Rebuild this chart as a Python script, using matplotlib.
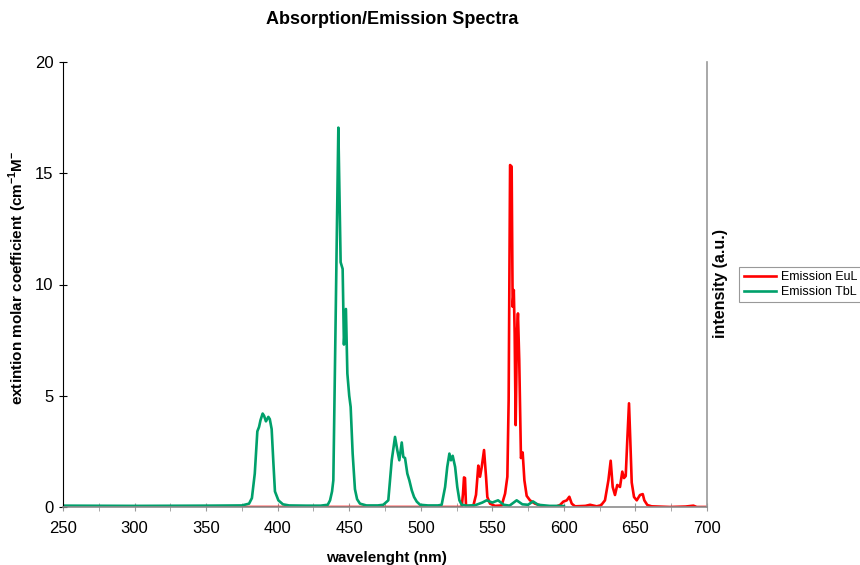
#!/usr/bin/env python3
"""
Absorption/Emission spectra of EuL and TbL (emission curves only)
"""

import matplotlib
matplotlib.use('Agg')
import matplotlib.pyplot as plt
from matplotlib.ticker import MultipleLocator

plt.rcParams['font.family'] = ['Liberation Sans', 'DejaVu Sans']
plt.rcParams['mathtext.fontset'] = 'custom'
plt.rcParams['mathtext.rm'] = 'Liberation Sans'
plt.rcParams['mathtext.bf'] = 'Liberation Sans:bold'

# Emission EuL (red)
eu_wl = [250, 528.6, 529.5, 530.2, 530.9, 531.6, 536.7, 538.6, 540.2, 541.4,
         542.6, 544.2, 545.6, 546.5, 548.4, 551.9, 556.5, 558.9, 560.5, 561.4,
         562.4, 563.5, 564.2, 565.0, 565.6, 566.3, 567.2, 567.9, 568.8, 570.0,
         571.2, 572.4, 574.0, 576.3, 579.8, 585.6, 595.0, 597.3, 599.6, 602.0,
         603.8, 605.5, 607.8, 615.0, 618.3, 622.9, 626.0, 628.7, 631.1, 632.7,
         634.1, 635.7, 637.3, 639.2, 640.8, 642.0, 643.2, 644.3, 645.5, 646.4,
         647.4, 649.0, 650.9, 653.2, 655.1, 656.2, 658.3, 661.3, 674.2, 685.0,
         690.5, 692.8, 700]
eu_int = [0.0, 0.0, 0.6, 1.33, 1.3, 0.05, 0.05, 0.55, 1.86, 1.36,
          1.8, 2.56, 1.36, 0.45, 0.15, 0.05, 0.07, 0.6, 1.36, 4.8,
          15.37, 15.3, 9.0, 9.75, 7.8, 3.68, 7.8, 8.7, 6.6, 2.2,
          2.45, 1.2, 0.5, 0.3, 0.15, 0.03, 0.03, 0.09, 0.24, 0.3,
          0.46, 0.15, 0.03, 0.05, 0.1, 0.03, 0.08, 0.3, 1.2, 2.08,
          0.9, 0.54, 0.99, 0.9, 1.59, 1.3, 1.39, 3.0, 4.66, 3.0,
          1.1, 0.45, 0.3, 0.54, 0.58, 0.3, 0.09, 0.03, 0.0, 0.02,
          0.06, 0.0, 0.0]

# Emission TbL (green)
tb_wl = [250, 300, 350, 375, 380, 382, 384, 385.8, 387, 388,
         389.5, 390.5, 391.8, 393.5, 394.5, 395.8, 397, 398.1, 400.5, 403.7,
         408, 420, 430, 435, 436.6, 438, 438.9, 440.5, 441.5, 442.4,
         443.2, 444, 445.4, 446.3, 447.7, 448.7, 450, 451, 452.4, 454,
         455.5, 457.5, 462, 470, 473.8, 477.3, 479.7, 482, 483.6, 485,
         486.7, 487.8, 489, 490.6, 492, 493.7, 495.3, 497.2, 499.5, 505,
         512, 514.6, 517, 518.5, 520, 521.1, 522.3, 524, 525.5, 527,
         528.6, 532, 538, 543, 546, 550, 554, 558, 562, 567,
         571, 575, 578.4, 582, 590, 597, 600]
tb_int = [0.06, 0.05, 0.06, 0.07, 0.15, 0.4, 1.5, 3.4, 3.6, 3.9,
          4.2, 4.1, 3.85, 4.05, 3.95, 3.5, 2.0, 0.7, 0.3, 0.12,
          0.07, 0.06, 0.06, 0.1, 0.3, 0.7, 1.2, 8.4, 13.0, 17.05,
          14.0, 11.0, 10.7, 7.3, 8.9, 6.0, 5.0, 4.5, 2.4, 0.8,
          0.35, 0.15, 0.07, 0.07, 0.1, 0.3, 2.1, 3.15, 2.55, 2.1,
          2.9, 2.25, 2.2, 1.5, 1.2, 0.75, 0.45, 0.24, 0.1, 0.07,
          0.07, 0.1, 0.9, 1.8, 2.4, 2.1, 2.3, 1.8, 0.9, 0.3,
          0.1, 0.06, 0.08, 0.2, 0.3, 0.2, 0.3, 0.1, 0.06, 0.3,
          0.12, 0.1, 0.25, 0.1, 0.05, 0.05, 0.04]

fig = plt.figure(figsize=(8.6, 5.65), dpi=100)
ax = fig.add_axes([63 / 860, 58 / 565, 644 / 860, 445 / 565])

ax.plot(eu_wl, eu_int, color='#ff0000', lw=1.9, label='Emission EuL')
ax.plot(tb_wl, tb_int, color='#00a06b', lw=1.9, label='Emission TbL')

ax.set_xlim(250, 700)
ax.set_ylim(0, 20)
ax.xaxis.set_major_locator(MultipleLocator(50))
ax.xaxis.set_minor_locator(MultipleLocator(25))
ax.yaxis.set_major_locator(MultipleLocator(5))

ax.spines['top'].set_visible(False)
ax.spines['left'].set_color('black')
ax.spines['bottom'].set_color('#8c8c8c')
ax.spines['right'].set_color('#9a9a9a')
ax.spines['bottom'].set_linewidth(1.2)
ax.spines['right'].set_linewidth(1.2)

ax.tick_params(axis='x', which='both', direction='inout', length=6,
               color='#9a9a9a', labelsize=12, pad=7)
ax.tick_params(axis='y', direction='inout', length=6, color='black',
               labelsize=12, pad=4)

fig.text(392 / 860, 1 - 20 / 565, 'Absorption/Emission Spectra',
         ha='center', va='center', fontsize=13, fontweight='bold')
fig.text(18 / 860, 1 - 278 / 565,
         r'extintion molar coefficient (cm$^{\mathbf{-1}}$M$^{\mathbf{-}}$',
         ha='center', va='center', rotation=90, fontsize=11, fontweight='bold')
fig.text(386 / 860, 1 - 558 / 565, 'wavelenght (nm)',
         ha='center', va='center', fontsize=11, fontweight='bold')
fig.text(720 / 860, 1 - 284 / 565, 'intensity (a.u.)',
         ha='center', va='center', rotation=90, fontsize=11.5, fontweight='bold')

leg = ax.legend(loc='center left', bbox_to_anchor=(1.05, 0.5),
                fontsize=9, frameon=True, fancybox=False,
                handlelength=2.6, handletextpad=0.4, borderpad=0.35,
                borderaxespad=0.0, labelspacing=0.25)
leg.get_frame().set_edgecolor('#808080')
leg.get_frame().set_linewidth(0.8)

plt.savefig('out.png', dpi=100)
print("saved out.png")
